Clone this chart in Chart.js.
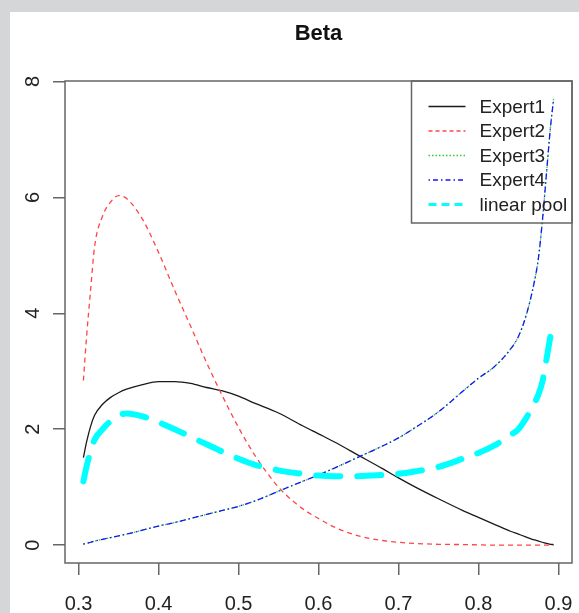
<!DOCTYPE html>
<html>
<head>
<meta charset="utf-8">
<script src="https://cdn.jsdelivr.net/npm/chart.js@4.4.1/dist/chart.umd.min.js"></script>
<style>
  html, body { margin: 0; padding: 0; background: #d5d6d8; }
  #wrap { position: absolute; left: 10px; top: 12px; width: 569px; height: 601px; background: #fff; }
</style>
</head>
<body>
<div id="wrap"><canvas id="chart" width="569" height="601"></canvas></div>
<script>
// values
const xs = [0.306, 0.31, 0.315, 0.32, 0.33, 0.34, 0.35, 0.36, 0.38, 0.40, 0.42, 0.44, 0.46, 0.48, 0.50, 0.52,
    0.55, 0.58, 0.60, 0.62, 0.65, 0.68, 0.70, 0.72, 0.75, 0.78, 0.80, 0.82, 0.84, 0.85, 0.86, 0.87, 0.875,
    0.88, 0.885, 0.89, 0.894];
const expert1 = [1.51, 1.78, 2.05, 2.24, 2.43, 2.55, 2.63, 2.69, 2.77, 2.82, 2.82, 2.79, 2.72, 2.66, 2.57, 2.45,
    2.28, 2.06, 1.92, 1.78, 1.55, 1.32, 1.16, 1.01, 0.8, 0.6, 0.48, 0.36, 0.24, 0.19, 0.14, 0.09, 0.07,
    0.05, 0.03, 0.015, 0.01];
const expert2 = [2.84, 3.6, 4.4, 5.15, 5.68, 5.92, 6.03, 5.98, 5.62, 5.05, 4.4, 3.78, 3.15, 2.57, 2.03, 1.56,
    1.0, 0.63, 0.46, 0.31, 0.16, 0.08, 0.05, 0.03, 0.015, 0.01, 0.005, 0, 0, 0, 0, 0, 0,
    0, 0, 0, 0];
const expert3 = [0.02, 0.03, 0.05, 0.07, 0.1, 0.13, 0.16, 0.19, 0.26, 0.33, 0.39, 0.46, 0.53, 0.6, 0.67, 0.76,
    0.93, 1.1, 1.21, 1.33, 1.52, 1.71, 1.85, 2.02, 2.3, 2.65, 2.88, 3.08, 3.38, 3.6, 3.98, 4.55, 4.95,
    5.6, 6.4, 7.2, 7.7];
const expert4 = [0.02, 0.03, 0.05, 0.07, 0.1, 0.13, 0.16, 0.19, 0.26, 0.33, 0.39, 0.46, 0.53, 0.6, 0.67, 0.76,
    0.93, 1.1, 1.21, 1.33, 1.52, 1.71, 1.85, 2.02, 2.3, 2.65, 2.88, 3.08, 3.38, 3.6, 3.98, 4.55, 4.95,
    5.6, 6.4, 7.2, 7.7];
const linearPool = [1.1, 1.36, 1.62, 1.82, 2.0, 2.14, 2.24, 2.27, 2.22, 2.12, 2.0, 1.87, 1.74, 1.61, 1.49, 1.39,
    1.29, 1.23, 1.2, 1.19, 1.19, 1.21, 1.23, 1.27, 1.35, 1.49, 1.59, 1.72, 1.9, 2.0, 2.2, 2.45, 2.6,
    2.82, 3.2, 3.6, 3.87];
const xTicks = [0.3, 0.4, 0.5, 0.6, 0.7, 0.8, 0.9];
const yTicks = [0, 2, 4, 6, 8];

const FONT = '"Liberation Sans", Arial, sans-serif';
const pts = ys => xs.map((x, i) => ({ x, y: ys[i] }));

const line = (label, ys, color, width, dash, order, extra) => Object.assign({
    label,
    data: pts(ys),
    borderColor: color,
    borderWidth: width,
    borderDash: dash,
    pointRadius: 0,
    fill: false,
    cubicInterpolationMode: 'monotone',
    order
}, extra || {});

const datasets = [
    line('Expert1', expert1, '#1a1a1a', 1.3, [], 5),
    line('Expert2', expert2, '#ff4545', 1.3, [5, 4], 4),
    line('Expert3', expert3, '#2ecc2e', 1.3, [1.5, 2.5], 3),
    line('Expert4', expert4, '#1414ff', 1.3, [1.5, 3, 6, 3], 2),
    line('linear pool', linearPool, '#00ffff', 6, [24, 17], 1, { borderCapStyle: 'round' })
];

// legend samples in R style
const legendStyles = [
    { w: 1.5, dash: [] },
    { w: 1.5, dash: [4, 3] },
    { w: 1.5, dash: [1.5, 2] },
    { w: 1.5, dash: [1.5, 3, 5, 3] },
    { w: 3, dash: [8, 5] }
];

const framePlugin = {
    id: 'frame',
    afterDraw(chart) {
        const { ctx, chartArea: a } = chart;
        ctx.save();
        ctx.strokeStyle = '#666';
        ctx.lineWidth = 1.5;
        ctx.strokeRect(a.left, a.top, a.right - a.left, a.bottom - a.top);

        // title
        ctx.fillStyle = '#111';
        ctx.font = 'bold 22px ' + FONT;
        ctx.textAlign = 'center';
        ctx.textBaseline = 'middle';
        ctx.fillText('Beta', (a.left + a.right) / 2, 22);

        // legend, top right inside the plot
        const bw = 160.5, bh = 142;
        const bx = a.right - bw, by = a.top;
        ctx.strokeRect(bx, by, bw, bh);
        ctx.font = '19px ' + FONT;
        ctx.textAlign = 'left';
        chart.data.datasets.forEach((ds, i) => {
            const y = by + 25.5 + i * 24.5;
            const st = legendStyles[i];
            ctx.strokeStyle = ds.borderColor;
            ctx.lineWidth = st.w;
            ctx.setLineDash(st.dash);
            ctx.beginPath();
            ctx.moveTo(bx + 17, y);
            ctx.lineTo(bx + 54, y);
            ctx.stroke();
            ctx.setLineDash([]);
            ctx.fillStyle = '#222';
            ctx.fillText(ds.label, bx + 68, y + 1);
        });
        ctx.restore();
    }
};

const axisGrid = { drawOnChartArea: false, drawTicks: true, tickLength: 12, color: '#666', lineWidth: 1.5 };

new Chart(document.getElementById('chart'), {
    type: 'line',
    data: { datasets },
    options: {
        responsive: false,
        animation: false,
        devicePixelRatio: 1,
        layout: { padding: { left: 0, right: 7, top: 69, bottom: 0 } },
        plugins: { legend: { display: false }, title: { display: false }, tooltip: { enabled: false } },
        scales: {
            x: {
                type: 'linear',
                min: 0.283,
                max: 0.917,
                afterBuildTicks: s => { s.ticks = xTicks.map(v => ({ value: v })); },
                afterFit: s => { s.height = 50; s.paddingLeft = 0; s.paddingRight = 0; },
                grid: axisGrid,
                border: { display: false },
                ticks: {
                    autoSkip: false,
                    maxRotation: 0,
                    padding: 17,
                    color: '#222',
                    font: { size: 20, family: FONT },
                    callback: v => v.toFixed(1)
                }
            },
            y: {
                type: 'linear',
                min: -0.308,
                max: 8.008,
                afterBuildTicks: s => { s.ticks = yTicks.map(v => ({ value: v })); },
                afterFit: s => { s.width = 55; s.paddingTop = 0; s.paddingBottom = 0; },
                grid: axisGrid,
                border: { display: false },
                ticks: {
                    autoSkip: false,
                    minRotation: 90,
                    maxRotation: 90,
                    crossAlign: 'center',
                    padding: 14,
                    color: '#222',
                    font: { size: 20, family: FONT },
                    callback: v => String(v)
                }
            }
        }
    },
    plugins: [framePlugin]
});
</script>
</body>
</html>
